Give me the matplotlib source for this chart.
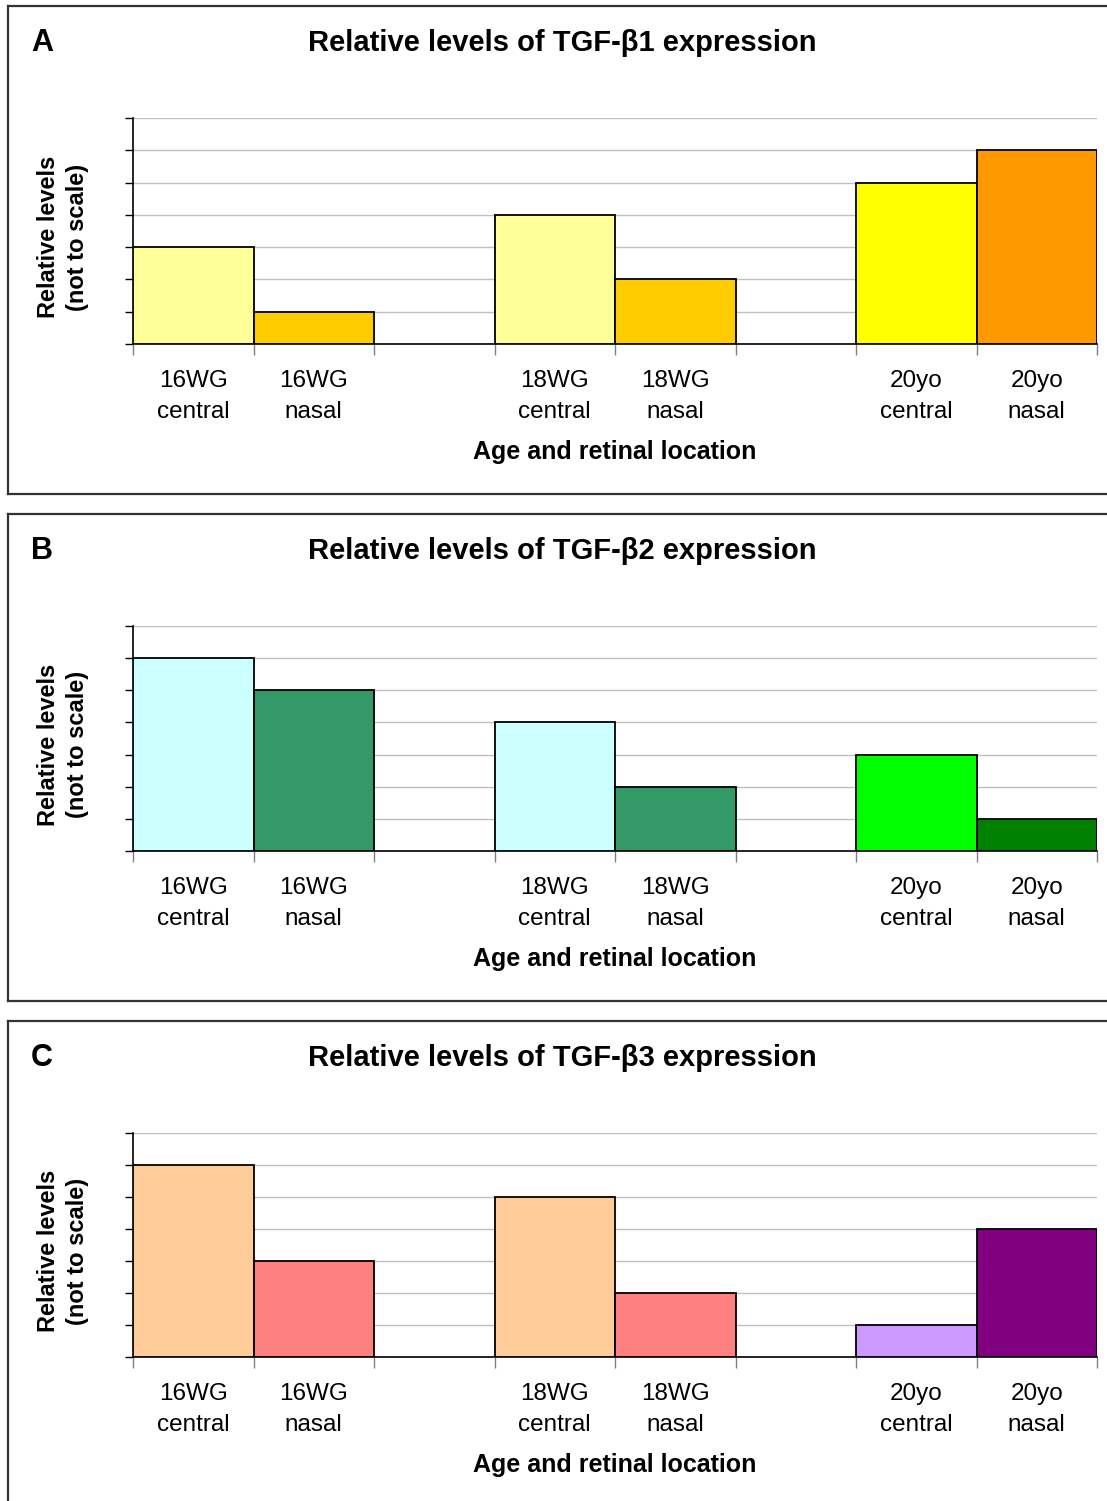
import matplotlib
matplotlib.use("Agg")
import matplotlib.pyplot as plt
from matplotlib.lines import Line2D

plt.rcParams['font.family'] = ['Liberation Sans', 'DejaVu Sans']

categories = ["16WG\ncentral", "16WG\nnasal", "", "18WG\ncentral", "18WG\nnasal", "",
              "20yo\ncentral", "20yo\nnasal"]
panel_letters = ["A", "B", "C"]
titles = ["Relative levels of TGF-β1 expression",
          "Relative levels of TGF-β2 expression",
          "Relative levels of TGF-β3 expression"]
values_b1 = [3, 1, 0, 4, 2, 0, 5, 6]
values_b2 = [6, 5, 0, 4, 2, 0, 3, 1]
values_b3 = [6, 3, 0, 5, 2, 0, 1, 4]
colors_b1 = ["#FFFF99", "#FFCC00", "none", "#FFFF99", "#FFCC00", "none", "#FFFF00", "#FF9900"]
colors_b2 = ["#CCFFFF", "#339966", "none", "#CCFFFF", "#339966", "none", "#00FF00", "#008000"]
colors_b3 = ["#FFCC99", "#FF8080", "none", "#FFCC99", "#FF8080", "none", "#CC99FF", "#800080"]
y_max = 7
xlabel = "Age and retinal location"
ylabel = "Relative levels\n(not to scale)"

W, H = 1107, 1501
fig = plt.figure(figsize=(W / 100, H / 100), dpi=100)

def fx(px):
    return px / W

def fy(py):
    return 1 - py / H

# panel geometry in pixels: (axes top, axes bottom, box top, box bottom, title y)
panels = [
    (118, 344, 6, 494, 42),
    (626, 851, 514, 1001, 550),
    (1133, 1357, 1021, 1510, 1057),
]
all_values = [values_b1, values_b2, values_b3]
all_colors = [colors_b1, colors_b2, colors_b3]

ax_left, ax_right = 133, 1097
box_left = 8
box_color = "#333333"

for i, (atop, abot, btop, bbot, ty) in enumerate(panels):
    # panel frame
    fig.add_artist(Line2D([fx(box_left), fx(box_left)], [fy(btop), fy(bbot)],
                          color=box_color, lw=1.6, transform=fig.transFigure))
    fig.add_artist(Line2D([fx(box_left), 1.01], [fy(btop), fy(btop)],
                          color=box_color, lw=1.6, transform=fig.transFigure))
    fig.add_artist(Line2D([fx(box_left), 1.01], [fy(bbot), fy(bbot)],
                          color=box_color, lw=1.6, transform=fig.transFigure))

    ax = fig.add_axes([fx(ax_left), fy(abot), fx(ax_right) - fx(ax_left), fy(atop) - fy(abot)])
    vals = all_values[i]
    cols = all_colors[i]
    xs = list(range(len(categories)))
    for x, v, c in zip(xs, vals, cols):
        if v > 0:
            ax.bar(x, v, width=1.0, color=c, edgecolor="black", linewidth=1.3, zorder=3)
    ax.set_xlim(-0.5, len(categories) - 0.5)
    ax.set_ylim(0, y_max)
    ax.set_yticks(range(0, y_max + 1))
    ax.set_yticklabels([])
    ax.yaxis.grid(True, color="#C0C0C0", lw=1.0, zorder=0)
    ax.set_axisbelow(True)
    ax.tick_params(axis="y", direction="out", length=6, width=1.0, color="black")
    # x ticks at slot boundaries
    ax.set_xticks([x - 0.5 for x in range(len(categories) + 1)])
    ax.set_xticklabels([])
    ax.tick_params(axis="x", direction="out", length=8, width=1.0, color="#808080")
    ax.set_xticks(xs, minor=True)
    ax.set_xticklabels(categories, minor=True, fontsize=17.5, linespacing=1.5)
    ax.tick_params(axis="x", which="minor", length=0, pad=19)
    for s in ["top", "right"]:
        ax.spines[s].set_visible(False)
    ax.spines["left"].set_color("black")
    ax.spines["bottom"].set_color("black")
    ax.spines["left"].set_linewidth(1.2)
    ax.spines["bottom"].set_linewidth(1.2)

    fig.text(fx(562), fy(ty + 1), titles[i], ha="center", va="center",
             fontsize=21, fontweight="bold")
    fig.text(fx(42), fy(ty + 1), panel_letters[i], ha="center", va="center",
             fontsize=22, fontweight="bold")
    fig.text(fx(615), fy(abot + 108), xlabel, ha="center", va="center",
             fontsize=18, fontweight="bold")
    fig.text(fx(63), fy((atop + abot) / 2 + 6), ylabel, ha="center", va="center",
             rotation=90, fontsize=17, fontweight="bold", linespacing=1.3)

fig.savefig("out.png", dpi=100)
